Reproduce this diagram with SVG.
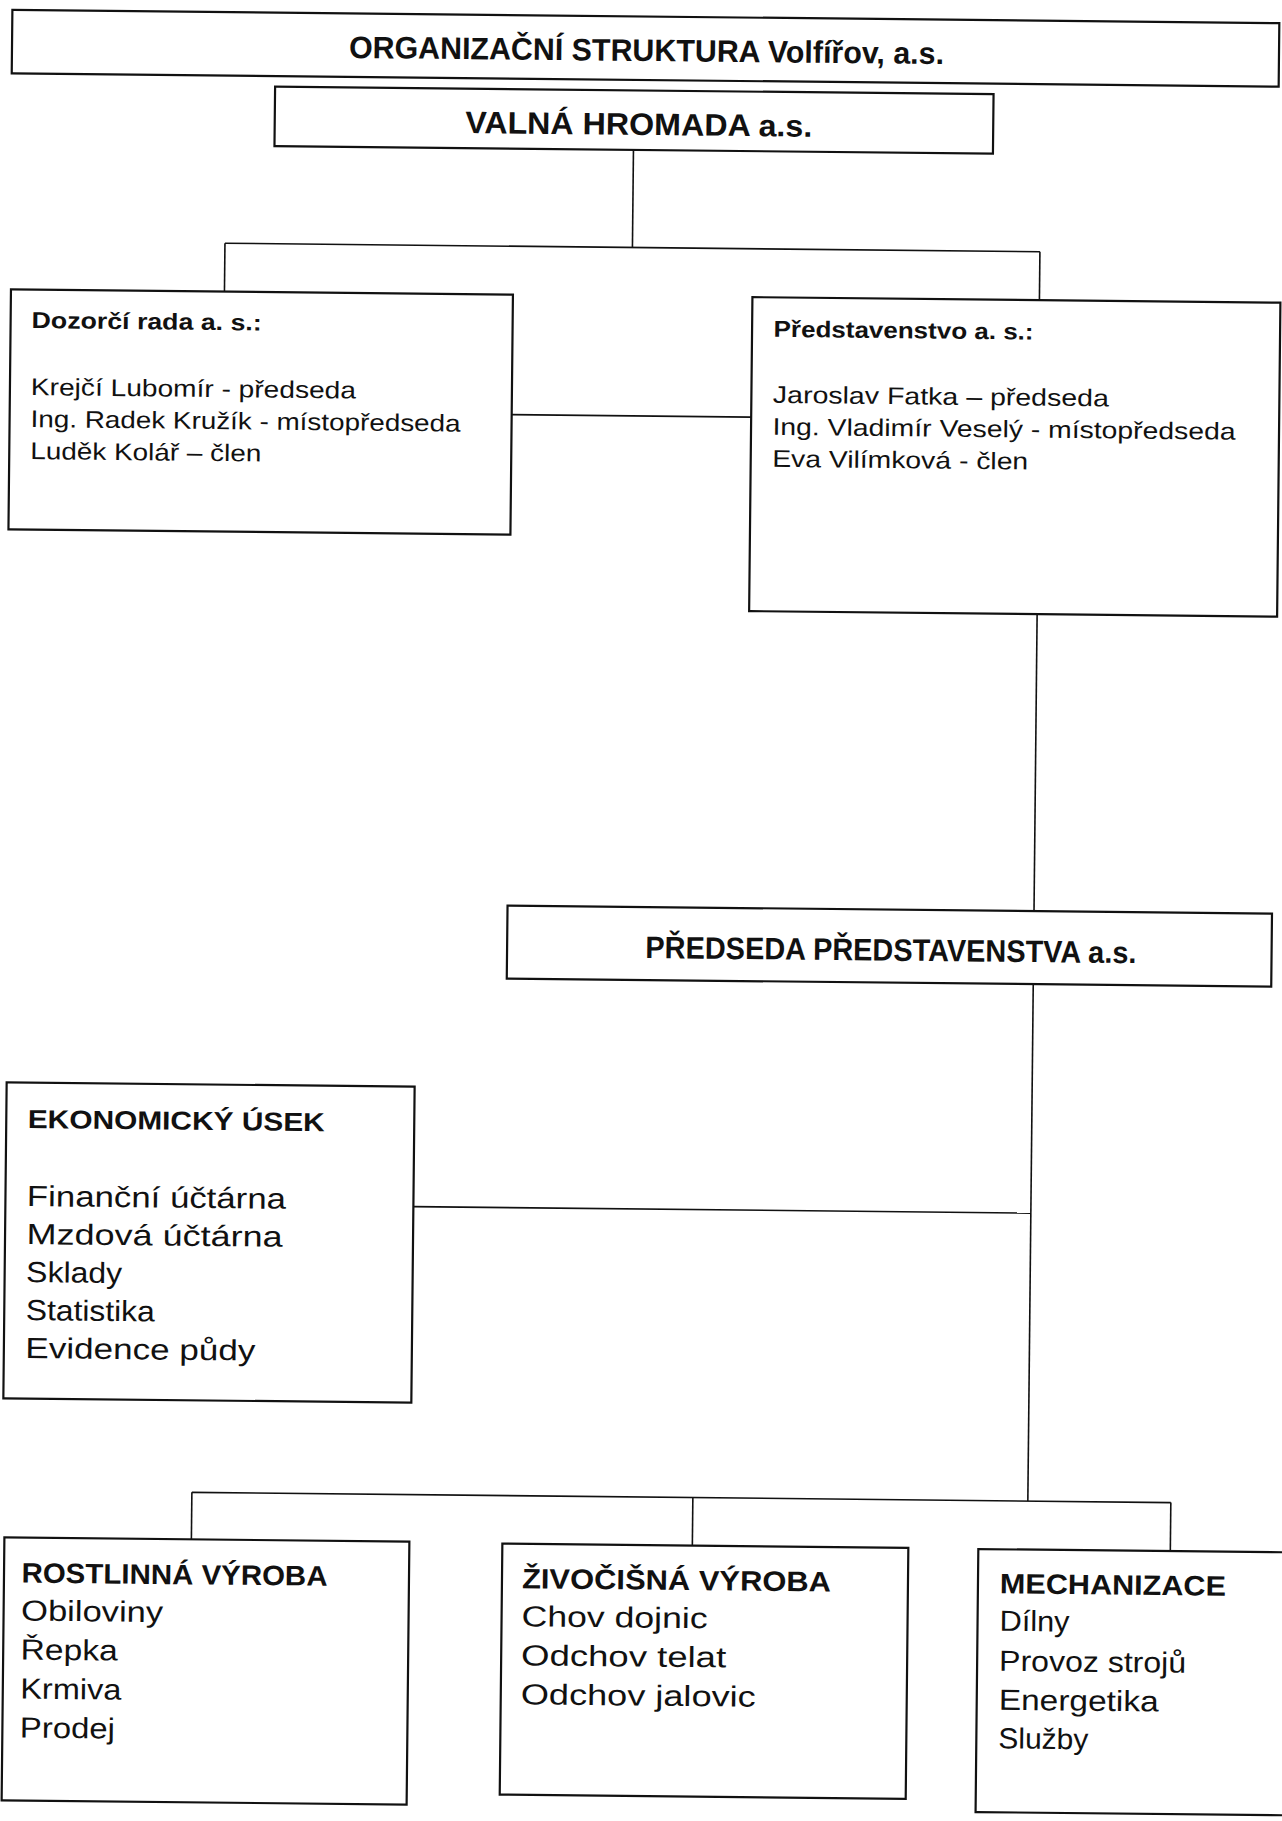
<svg xmlns="http://www.w3.org/2000/svg" width="1282" height="1821" viewBox="0 0 1282 1821">
<style>
.box{fill:#fff;stroke:#111;stroke-width:2.2}
.conn line{stroke:#111;stroke-width:1.6}
text{font-family:"Liberation Sans",Arial,sans-serif;fill:#111}
.b{font-weight:bold}
.s31{font-size:31px}
.s23{font-size:23px}
.s24{font-size:24px}
.s26{font-size:26px}
.s28{font-size:28px}
.s29{font-size:29px}
</style>
<rect width="1282" height="1821" fill="#fff"/>
<g transform="rotate(0.6 641 910)">
  <g id="connectors" class="conn">
    <line x1="625.5" y1="150" x2="625.5" y2="247.6"/>
    <line x1="218" y1="247.6" x2="1033" y2="247.6"/>
    <line x1="218" y1="247.6" x2="218" y2="296"/>
    <line x1="1033" y1="247.6" x2="1033" y2="296"/>
    <line x1="506.5" y1="416" x2="746" y2="416"/>
    <line x1="1034" y1="610" x2="1034" y2="907"/>
    <line x1="1034" y1="980" x2="1034" y2="1497"/>
    <line x1="416.5" y1="1209" x2="1034" y2="1209"/>
    <line x1="198" y1="1497" x2="1177" y2="1497"/>
    <line x1="198" y1="1497" x2="198" y2="1544"/>
    <line x1="699" y1="1497" x2="699" y2="1545"/>
    <line x1="1177" y1="1497" x2="1177" y2="1545.5"/>
  </g>
  <g id="title">
    <rect class="box" x="3" y="16.5" width="1267" height="63.5"/>
    <text class="b s31" x="340" y="61" textLength="595" lengthAdjust="spacingAndGlyphs">ORGANIZAČNÍ STRUKTURA Volfířov, a.s.</text>
  </g>
  <g id="valna-hromada">
    <rect class="box" x="266.5" y="90.5" width="718.5" height="59.5"/>
    <text class="b s31" x="457" y="135" textLength="347" lengthAdjust="spacingAndGlyphs">VALNÁ HROMADA a.s.</text>
  </g>
  <g id="dozorci-rada">
    <rect class="box" x="4.5" y="296" width="502" height="240"/>
    <text class="b s23" x="25.5" y="334.5" textLength="230" lengthAdjust="spacingAndGlyphs">Dozorčí rada a. s.:</text>
    <text class="s24" x="25.5" y="401.5" textLength="325" lengthAdjust="spacingAndGlyphs">Krejčí Lubomír - předseda</text>
    <text class="s24" x="25.5" y="433.5" textLength="430" lengthAdjust="spacingAndGlyphs">Ing. Radek Kružík - místopředseda</text>
    <text class="s24" x="25.5" y="465.5" textLength="231" lengthAdjust="spacingAndGlyphs">Luděk Kolář – člen</text>
  </g>
  <g id="predstavenstvo">
    <rect class="box" x="746" y="296" width="528" height="314"/>
    <text class="b s23" x="767.5" y="335.5" textLength="260" lengthAdjust="spacingAndGlyphs">Představenstvo a. s.:</text>
    <text class="s24" x="767.5" y="401.5" textLength="336" lengthAdjust="spacingAndGlyphs">Jaroslav Fatka – předseda</text>
    <text class="s24" x="767.5" y="433.5" textLength="463" lengthAdjust="spacingAndGlyphs">Ing. Vladimír Veselý - místopředseda</text>
    <text class="s24" x="767.5" y="465.5" textLength="256" lengthAdjust="spacingAndGlyphs">Eva Vilímková - člen</text>
  </g>
  <g id="predseda-predstavenstva">
    <rect class="box" x="507.5" y="907" width="764.5" height="73"/>
    <text class="b s31" x="645.8" y="958" textLength="491" lengthAdjust="spacingAndGlyphs">PŘEDSEDA PŘEDSTAVENSTVA a.s.</text>
  </g>
  <g id="ekonomicky-usek">
    <rect class="box" x="8.5" y="1089" width="408" height="316"/>
    <text class="b s26" x="30" y="1134.5" textLength="297" lengthAdjust="spacingAndGlyphs">EKONOMICKÝ ÚSEK</text>
    <text class="s29" x="30" y="1212.5" textLength="259" lengthAdjust="spacingAndGlyphs">Finanční účtárna</text>
    <text class="s29" x="30" y="1250.5" textLength="256" lengthAdjust="spacingAndGlyphs">Mzdová účtárna</text>
    <text class="s29" x="30" y="1288.5" textLength="96" lengthAdjust="spacingAndGlyphs">Sklady</text>
    <text class="s29" x="30" y="1326.5" textLength="129" lengthAdjust="spacingAndGlyphs">Statistika</text>
    <text class="s29" x="30" y="1364.5" textLength="230" lengthAdjust="spacingAndGlyphs">Evidence půdy</text>
  </g>
  <g id="rostlinna-vyroba">
    <rect class="box" x="11" y="1544" width="405" height="263"/>
    <text class="b s28" x="28.5" y="1589" textLength="306" lengthAdjust="spacingAndGlyphs">ROSTLINNÁ VÝROBA</text>
    <text class="s29" x="28.5" y="1627" textLength="142" lengthAdjust="spacingAndGlyphs">Obiloviny</text>
    <text class="s29" x="28.5" y="1666" textLength="97" lengthAdjust="spacingAndGlyphs">Řepka</text>
    <text class="s29" x="28.5" y="1705" textLength="101" lengthAdjust="spacingAndGlyphs">Krmiva</text>
    <text class="s29" x="28.5" y="1744" textLength="95" lengthAdjust="spacingAndGlyphs">Prodej</text>
  </g>
  <g id="zivocisna-vyroba">
    <rect class="box" x="509" y="1545" width="406" height="251"/>
    <text class="b s28" x="529" y="1589.5" textLength="309" lengthAdjust="spacingAndGlyphs">ŽIVOČIŠNÁ VÝROBA</text>
    <text class="s29" x="529" y="1627.5" textLength="186" lengthAdjust="spacingAndGlyphs">Chov dojnic</text>
    <text class="s29" x="529" y="1666.5" textLength="205" lengthAdjust="spacingAndGlyphs">Odchov telat</text>
    <text class="s29" x="529" y="1705.5" textLength="235" lengthAdjust="spacingAndGlyphs">Odchov jalovic</text>
  </g>
  <g id="mechanizace">
    <rect class="box" x="985" y="1545.5" width="320" height="263"/>
    <text class="b s28" x="1007" y="1589.5" textLength="226" lengthAdjust="spacingAndGlyphs">MECHANIZACE</text>
    <text class="s29" x="1007" y="1627" textLength="70" lengthAdjust="spacingAndGlyphs">Dílny</text>
    <text class="s29" x="1007" y="1667" textLength="187" lengthAdjust="spacingAndGlyphs">Provoz strojů</text>
    <text class="s29" x="1007" y="1706" textLength="160" lengthAdjust="spacingAndGlyphs">Energetika</text>
    <text class="s29" x="1007" y="1744.5" textLength="90" lengthAdjust="spacingAndGlyphs">Služby</text>
  </g>
</g>
</svg>
